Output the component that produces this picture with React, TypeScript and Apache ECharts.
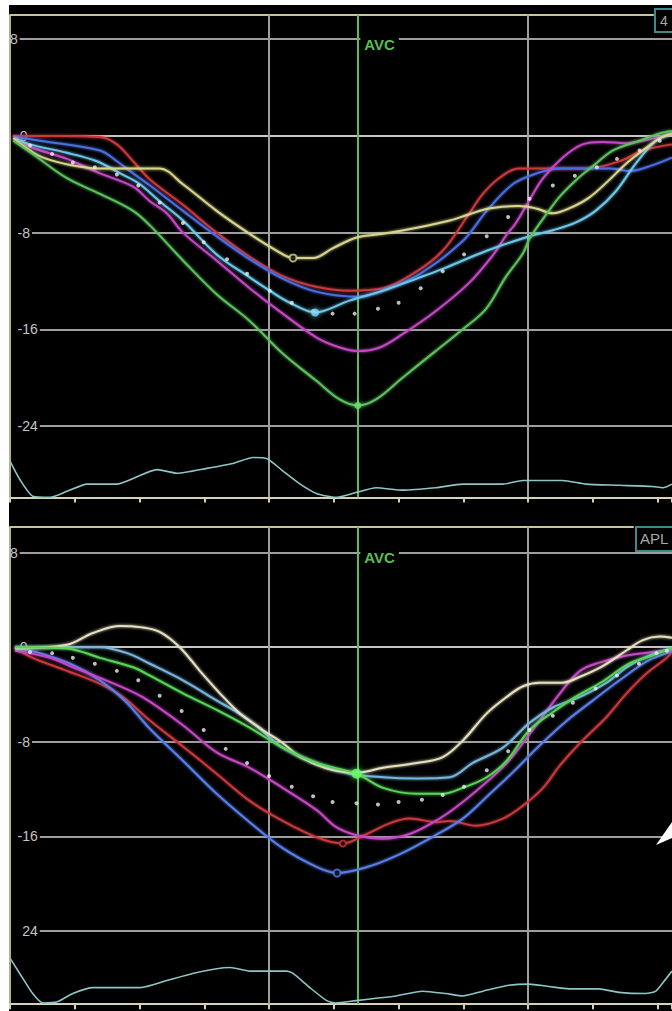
import React, { useEffect, useRef } from "react";
import * as echarts from "echarts";

// ---- axes / layout constants (time in ms, strain in %) ----
const X_MAX = 1022;
const TICK_MS = 100;
const AVC_MS = 537;
const GUIDE_MS = [400, 800];
const GRID_VALUES = [8, 0, -8, -16, -24];
const GRID_START_MS = [15, 30, 34, 46, 46];
const TOP_LABELS = ["8", "0", "-8", "-16", "-24"];
const BOTTOM_LABELS = ["8", "0", "-8", "-16", "24"];
const TOP_RANGE = [-29.9, 10];
const BOTTOM_RANGE = [-30.2, 10.17];
const TOP_BORDER_END_MS = 994;
const BOTTOM_BORDER_END_MS = 963;
const TOP_VIEW = "4";
const BOTTOM_VIEW = "APL";
const EVENT_LABEL = "AVC";

// ---- top panel ----
const topYellow = [[5,-0.2],[31,-1.2],[51,-1.8],[93,-2.4],[139,-2.7],[185,-2.7],[231,-2.7],[267,-4.0],[319,-6.2],[370,-8.1],[412,-9.5],[437,-10.1],[468,-10.1],[498,-9.3],[535,-8.4],[576,-8.1],[628,-7.6],[679,-7.0],[708,-6.5],[739,-6.0],[785,-5.8],[812,-6.0],[838,-6.4],[863,-6.0],[894,-5.1],[924,-3.7],[951,-2.3],[977,-1.2],[1003,-0.2],[1022,0.2]];
const topRed = [[5,0],[77,0],[139,-0.1],[165,-0.7],[190,-2.1],[216,-3.6],[267,-5.7],[319,-8.0],[370,-10.0],[421,-11.6],[474,-12.5],[525,-12.8],[576,-12.6],[628,-11.2],[668,-9.5],[708,-6.5],[730,-4.8],[755,-3.5],[785,-2.7],[838,-2.7],[889,-2.7],[941,-2.1],[977,-1.2],[1022,-0.7]];
const topBlue = [[8,-0.1],[46,-0.4],[139,-1.2],[165,-2.1],[190,-3.1],[216,-4.1],[267,-6.2],[319,-8.3],[370,-10.2],[421,-11.8],[474,-12.9],[537,-13.3],[576,-12.8],[633,-11.4],[699,-8.7],[736,-6.2],[776,-4.0],[813,-3.1],[849,-2.7],[895,-2.7],[926,-2.7],[957,-2.9],[988,-2.5],[1022,-1.8]];
const topCyan = [[8,-0.2],[31,-0.7],[88,-1.4],[134,-2.1],[170,-3.1],[198,-3.9],[231,-5.4],[267,-7.0],[319,-9.8],[370,-11.7],[401,-12.8],[432,-13.8],[471,-14.6],[525,-13.6],[576,-12.8],[628,-11.8],[668,-11.0],[736,-9.5],[802,-8.3],[838,-7.8],[872,-7.2],[904,-6.2],[935,-4.6],[966,-2.3],[997,-0.4],[1022,0.2]];
const topMagenta = [[5,0],[31,-0.9],[88,-1.9],[139,-3.1],[190,-4.2],[216,-5.4],[242,-6.4],[267,-8.0],[319,-10.3],[370,-12.6],[421,-14.7],[474,-16.7],[509,-17.5],[537,-17.8],[571,-17.5],[606,-16.4],[657,-14.5],[708,-12.2],[745,-9.9],[765,-8.3],[781,-7.2],[801,-5.4],[823,-3.5],[853,-1.8],[884,-0.7],[915,-0.5],[951,-0.6],[977,-0.4],[1022,0.2]];
const topGreen = [[5,-0.4],[35,-1.5],[88,-3.5],[139,-4.8],[190,-6.2],[216,-7.4],[267,-10.3],[319,-13.1],[370,-15.3],[421,-18.0],[474,-20.3],[509,-21.8],[537,-22.3],[565,-21.8],[606,-20.0],[657,-17.8],[699,-16.0],[735,-14.3],[765,-11.7],[792,-9.7],[802,-8.5],[829,-6.4],[849,-5.0],[875,-3.6],[900,-2.5],[931,-1.2],[972,-0.4],[1003,0.2],[1022,0.4]];
const topAverage = [[31,-0.8],[65,-1.5],[97,-2.2],[131,-2.6],[165,-3.2],[198,-4.1],[231,-5.5],[267,-7.2],[299,-8.8],[335,-10.2],[366,-11.4],[401,-12.8],[435,-13.8],[468,-14.5],[498,-14.7],[532,-14.7],[568,-14.3],[600,-13.8],[634,-12.6],[668,-11.2],[701,-9.8],[736,-8.3],[769,-6.7],[802,-5.2],[838,-4.1],[872,-3.3],[906,-2.6],[937,-1.9],[972,-1.2],[1003,-0.4]];
const topEcg = [[0,-26.9],[15,-28.4],[35,-29.8],[62,-29.9],[88,-29.4],[119,-28.8],[165,-28.8],[227,-27.6],[258,-27.9],[304,-27.5],[344,-27.1],[375,-26.6],[397,-26.7],[421,-27.7],[448,-28.8],[474,-29.6],[503,-29.9],[534,-29.5],[565,-29.1],[606,-29.3],[657,-29.1],[699,-28.8],[761,-28.8],[792,-28.5],[823,-28.5],[853,-28.5],[889,-28.8],[940,-28.9],[992,-29.0],[1008,-29.1],[1022,-28.8]];

// ---- bottom panel ----
const bottomBeige = [[8,-0.1],[88,0.2],[128,1.2],[170,1.8],[201,1.7],[231,1.3],[262,0],[293,-2.0],[324,-3.9],[355,-5.6],[390,-7.0],[421,-8.1],[448,-9.3],[498,-10.4],[535,-10.6],[576,-10.2],[628,-9.8],[668,-9.3],[699,-7.9],[736,-5.6],[767,-4.2],[792,-3.3],[818,-3.0],[853,-3.0],[880,-2.5],[915,-1.6],[951,-0.3],[977,0.6],[1003,0.9],[1022,0.8]];
const bottomSteel = [[8,0],[139,0],[181,-0.5],[216,-1.4],[267,-2.8],[319,-4.5],[370,-6.2],[421,-8.5],[474,-9.8],[525,-10.7],[576,-11.0],[628,-11.1],[679,-11.0],[714,-9.8],[761,-8.5],[802,-6.4],[838,-5.1],[880,-4.2],[921,-3.0],[952,-1.7],[983,-0.8],[1014,-0.2],[1022,-0.1]];
const bottomGreen = [[8,0],[88,-0.1],[139,-0.9],[190,-1.7],[216,-2.4],[267,-3.9],[319,-5.3],[370,-6.8],[421,-8.5],[474,-9.8],[535,-10.7],[576,-11.9],[628,-12.4],[668,-12.4],[699,-11.9],[736,-11.0],[767,-9.6],[802,-7.0],[838,-5.5],[873,-4.2],[915,-2.9],[955,-1.4],[992,-0.7],[1022,-0.1]];
const bottomMagenta = [[8,-0.3],[62,-0.9],[97,-1.7],[139,-2.6],[190,-3.8],[216,-4.6],[267,-6.6],[319,-8.9],[370,-10.2],[421,-11.9],[474,-13.8],[503,-15.2],[535,-15.9],[576,-16.2],[617,-15.8],[657,-14.7],[687,-13.6],[721,-12.1],[767,-9.8],[807,-7.0],[849,-3.9],[880,-2.0],[910,-1.3],[952,-0.7],[992,-0.4],[1022,-0.2]];
const bottomRed = [[8,-0.1],[35,-0.9],[88,-2.0],[139,-3.1],[174,-4.2],[216,-6.2],[267,-8.4],[319,-10.7],[370,-13.0],[421,-14.7],[474,-16.1],[514,-16.6],[551,-15.8],[586,-14.9],[617,-14.5],[659,-14.8],[679,-14.7],[719,-15.1],[761,-14.5],[792,-13.4],[823,-11.9],[849,-10.0],[880,-8.1],[921,-5.9],[952,-3.9],[983,-2.2],[1014,-0.9],[1022,-0.4]];
const bottomBlue = [[8,0],[46,-0.5],[93,-1.4],[139,-2.8],[177,-4.5],[216,-6.9],[267,-9.6],[319,-12.4],[370,-14.8],[421,-17.0],[474,-18.6],[505,-19.1],[551,-18.6],[602,-17.5],[657,-15.9],[699,-14.5],[739,-12.5],[776,-10.6],[818,-8.3],[860,-6.2],[900,-4.5],[941,-2.8],[983,-1.2],[1014,-0.5],[1022,-0.3]];
const bottomAverage = [[31,-0.4],[65,-0.5],[97,-0.9],[131,-1.4],[165,-2.0],[198,-2.8],[231,-4.1],[265,-5.4],[299,-7.0],[333,-8.6],[366,-9.8],[400,-10.9],[435,-11.8],[468,-12.6],[498,-13.1],[535,-13.2],[568,-13.3],[600,-13.1],[636,-12.9],[668,-12.5],[701,-11.8],[736,-10.4],[769,-8.8],[802,-7.0],[838,-5.8],[869,-4.7],[904,-3.5],[937,-2.4],[971,-1.4],[998,-0.5],[1014,-0.3]];
const bottomEcg = [[0,-26.3],[15,-27.6],[35,-29.3],[51,-30.1],[73,-30.0],[97,-29.3],[128,-28.8],[201,-28.8],[242,-28.2],[282,-27.6],[319,-27.2],[340,-27.1],[370,-27.4],[427,-27.4],[437,-27.6],[463,-28.8],[489,-29.9],[503,-30.1],[534,-29.9],[565,-29.7],[596,-29.5],[637,-29.1],[673,-29.3],[699,-29.5],[730,-29.1],[770,-28.6],[801,-28.5],[832,-28.7],[863,-28.9],[909,-28.9],[940,-29.2],[981,-29.3],[997,-29.1],[1012,-28.1],[1022,-27.4]];

const GRID_COLOR = "#9e9e9e";
const ZERO_COLOR = "#c6c6c6";
const BORDER_COLOR = "#c9c59b";
const AVC_COLOR = "#55bf55";
const LABEL_FONT = '"Liberation Sans", Arial, sans-serif';

function curve(data: number[][], color: string, panel: number, width = 2) {
  return {
    type: "line",
    xAxisIndex: panel,
    yAxisIndex: panel,
    data,
    smooth: 0.35,
    symbol: "none",
    silent: true,
    z: 2,
    lineStyle: { color, width, shadowBlur: 3, shadowColor: color },
  };
}

function dots(data: number[][], panel: number) {
  return {
    type: "scatter",
    xAxisIndex: panel,
    yAxisIndex: panel,
    data,
    symbol: "circle",
    symbolSize: 4,
    silent: true,
    z: 3,
    itemStyle: { color: "#eeeeee" },
  };
}

function peak(point: number[], panel: number, color: string, size: number, hollow: boolean) {
  return {
    type: "scatter",
    xAxisIndex: panel,
    yAxisIndex: panel,
    data: [point],
    symbol: "circle",
    symbolSize: size,
    silent: true,
    z: 4,
    itemStyle: hollow
      ? { color: "#000", borderColor: color, borderWidth: 2 }
      : { color, shadowBlur: 6, shadowColor: color },
  };
}

function frame(panel: number, ecg: number[][], labels: string[], range: number[], borderEnd: number) {
  const [yMin, yMax] = range;
  const gridLines = GRID_VALUES.map((v, i) => [
    {
      coord: [GRID_START_MS[i], v],
      lineStyle: { color: v === 0 ? ZERO_COLOR : GRID_COLOR, width: 2, type: "solid" },
      label: {
        show: true,
        position: "start",
        distance: 2,
        formatter: labels[i],
        color: "#c4c4c4",
        fontSize: 14,
        fontFamily: LABEL_FONT,
      },
    },
    { coord: [X_MAX, v] },
  ]);
  const verticals = GUIDE_MS.map((ms) => [
    { coord: [ms, yMax], lineStyle: { color: GRID_COLOR, width: 2, type: "solid" }, label: { show: false } },
    { coord: [ms, yMin] },
  ]);
  return {
    type: "line",
    xAxisIndex: panel,
    yAxisIndex: panel,
    data: ecg,
    smooth: 0.2,
    symbol: "none",
    silent: true,
    z: 2,
    lineStyle: { color: "#8cc6c6", width: 1.6 },
    markLine: {
      silent: true,
      z: 1,
      symbol: ["none", "none"],
      animation: false,
      data: [
        ...gridLines,
        [
          { coord: [0, yMax], lineStyle: { color: BORDER_COLOR, width: 2, type: "solid" }, label: { show: false } },
          { coord: [borderEnd, yMax] },
        ],
        ...verticals,
        [
          { coord: [AVC_MS, yMax], lineStyle: { color: AVC_COLOR, width: 2, type: "solid" }, label: { show: false } },
          { coord: [AVC_MS, yMin] },
        ],
      ],
    },
    markPoint: {
      silent: true,
      z: 4,
      animation: false,
      data: [
        {
          coord: [AVC_MS, GRID_VALUES[0]],
          symbol: "circle",
          symbolSize: 1,
          itemStyle: { color: "rgba(0,0,0,0)" },
          label: {
            show: true,
            position: "right",
            distance: 2,
            offset: [0, 5],
            formatter: EVENT_LABEL,
            color: AVC_COLOR,
            fontSize: 15,
            fontWeight: "bold",
            fontFamily: LABEL_FONT,
            backgroundColor: "#000",
            padding: [1, 4, 1, 4],
          },
        },
      ],
    },
  };
}

function axesFor(panel: number, range: number[]) {
  return {
    x: {
      type: "value",
      gridIndex: panel,
      min: 0,
      max: X_MAX,
      interval: TICK_MS,
      axisLine: { show: true, onZero: false, lineStyle: { color: "#d6d2b4", width: 2 } },
      axisTick: { show: true, length: 5, lineStyle: { color: "#d6d2b4", width: 2 } },
      axisLabel: { show: false },
      splitLine: { show: false },
    },
    y: {
      type: "value",
      gridIndex: panel,
      min: range[0],
      max: range[1],
      axisLine: { show: true, onZero: false, lineStyle: { color: "#b4b092", width: 2 } },
      axisTick: { show: false },
      axisLabel: { show: false },
      splitLine: { show: false },
    },
  };
}

export default function App() {
  const ref = useRef<HTMLDivElement>(null);
  useEffect(() => {
    if (!ref.current) return;
    const chart = echarts.init(ref.current, undefined, { renderer: "svg" });
    const a0 = axesFor(0, TOP_RANGE);
    const a1 = axesFor(1, BOTTOM_RANGE);
    chart.setOption({
      animation: false,
      backgroundColor: "#000",
      grid: [
        { left: 1, top: 10, width: 662, height: 482.4 },
        { left: 1, top: 522, width: 662, height: 477.2 },
      ],
      xAxis: [a0.x, a1.x],
      yAxis: [a0.y, a1.y],
      series: [
        frame(0, topEcg, TOP_LABELS, TOP_RANGE, TOP_BORDER_END_MS),
        curve(topRed, "#c8383c", 0),
        curve(topBlue, "#4c6de0", 0),
        curve(topMagenta, "#c447c4", 0),
        curve(topCyan, "#6cc6ea", 0),
        curve(topYellow, "#d9d58f", 0),
        curve(topGreen, "#5cc05c", 0),
        dots(topAverage, 0),
        peak(topYellow[11], 0, "#d9d58f", 7, true),
        peak(topCyan[12], 0, "#7fd8f5", 8, false),
        peak(topGreen[12], 0, "#6ee06e", 7, false),

        frame(1, bottomEcg, BOTTOM_LABELS, BOTTOM_RANGE, BOTTOM_BORDER_END_MS),
        curve(bottomRed, "#c8383c", 1),
        curve(bottomBlue, "#5a7ee8", 1),
        curve(bottomMagenta, "#c447c4", 1),
        curve(bottomSteel, "#78b4dc", 1),
        curve(bottomBeige, "#e6e0c0", 1),
        curve(bottomGreen, "#58d458", 1),
        dots(bottomAverage, 1),
        peak(bottomBlue[11], 1, "#5a7ee8", 7, true),
        peak(bottomRed[11], 1, "#c8383c", 6, true),
        peak(bottomGreen[10], 1, "#66ff66", 10, false),
      ],
      graphic: [
        { type: "rect", z: 10, shape: { x: 646, y: 4, width: 30, height: 23 }, style: { fill: "#000", stroke: "#3e8a8a", lineWidth: 2 } },
        { type: "text", z: 11, x: 651, y: 9, style: { text: TOP_VIEW, fill: "#a8a8a8", font: `14px ${LABEL_FONT}` } },
        { type: "rect", z: 10, shape: { x: 627, y: 522, width: 50, height: 24 }, style: { fill: "#000", stroke: "#3e8a8a", lineWidth: 2 } },
        { type: "text", z: 11, x: 631, y: 526, style: { text: BOTTOM_VIEW, fill: "#a8a8a8", font: `15px ${LABEL_FONT}` } },
        { type: "polygon", z: 12, shape: { points: [[647, 840], [663, 817], [663, 833]] }, style: { fill: "#ffffff" } },
      ],
    });
    return () => chart.dispose();
  }, []);
  return (
    <div
      ref={ref}
      style={{ position: "absolute", left: 9, top: 5, width: 663, height: 1006, background: "#000" }}
    />
  );
}
